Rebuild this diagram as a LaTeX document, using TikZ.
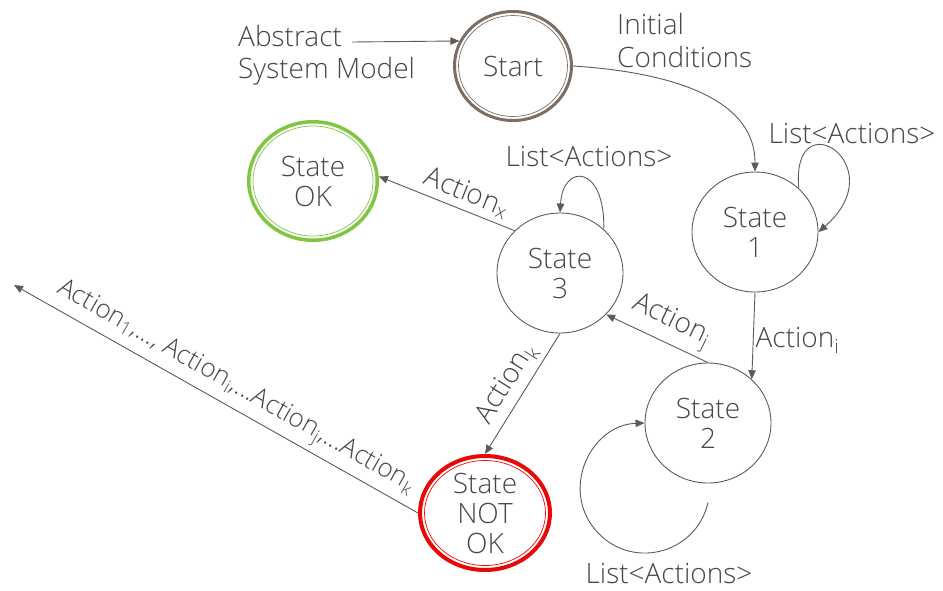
\documentclass[tikz,border=0pt]{standalone}
\usepackage{fontspec}
\setmainfont{Open Sans Light}
\usetikzlibrary{arrows.meta,shapes.geometric}
\definecolor{ink}{RGB}{76,70,66}
\definecolor{wire}{RGB}{95,90,87}
\definecolor{startrim}{RGB}{122,110,102}
\definecolor{okgreen}{RGB}{128,198,66}
\definecolor{badred}{RGB}{232,8,8}
\begin{document}
\begin{tikzpicture}[x=1pt,y=-1pt,
  every node/.style={text=ink, font=\fontsize{28}{30}\selectfont},
  state/.style={ellipse, draw=wire, line width=0.9pt, minimum width=126pt,
    minimum height=120pt, inner sep=0pt, align=center},
  conn/.style={draw=wire, line width=0.9pt, -{Triangle[length=9pt,width=7.5pt]}},
  tag/.style={inner sep=0pt, anchor=base west},
  looptag/.style={inner sep=0pt, anchor=base},
  edgetag/.style={inner sep=2pt},
  slopetag/.style={inner sep=0pt, sloped, above=5pt},
]
\useasboundingbox (0,0) rectangle (943,590);

% states
\node[state, draw=startrim, line width=3pt, minimum width=117pt, minimum height=109pt] (start) at (513,66) {Start};
\draw[startrim, line width=0.7pt] (start.center) ellipse [x radius=54.5, y radius=50.5];

\node[state, draw=okgreen, line width=3.5pt, minimum width=128.5pt, minimum height=118.5pt] (ok) at (313,181) {State\\OK};
\draw[okgreen, line width=0.7pt] (ok.center) ellipse [x radius=60, y radius=55];

\node[state, draw=badred, line width=4pt, minimum width=130pt, minimum height=114pt, inner ysep=-20pt] (notok) at (485,513) {State\\NOT\\OK};
\draw[badred, line width=0.7pt] (notok.center) ellipse [x radius=60.5, y radius=52.5];

\node[state] (s1) at (755,232) {State\\1};
\node[state] (s2) at (708,423) {State\\2};
\node[state] (s3) at (560,273) {State\\3};

% free texts
\node[tag] (abs1) at (238,46) {Abstract};
\node[tag] (abs2) at (238,78) {System Model};
\node[tag] (ic1) at (617,34) {Initial};
\node[tag] (ic2) at (617,67) {Conditions};
\node[looptag] (loop1) at (852,143) {List<Actions>};
\node[looptag] (loop3) at (589,166) {List<Actions>};
\node[looptag] (loop2) at (669,583) {List<Actions>};

\coordinate (exit) at (14,285);
\coordinate (s2tail) at ([shift={(0,19)}]s2.south);

% transitions
\draw[conn] ([shift={(10,-4)}]abs1.base east) -- (start.155);
\draw[conn] (start.east) .. controls +(80,5) and +(0,-80) .. (s1.north);
\draw[conn] (s1.45) .. controls +(-8,-90) and +(77,-67) .. (s1.0);
\draw[conn] (s1.south) -- (s2.45)
  node[edgetag, pos=0.55, right] {Action\textsubscript{i}};
\draw[conn] (s2.north) -- (s3.-42)
  node[slopetag, pos=0.45] {Action\textsubscript{j}};
\draw[conn] (s3.45) .. controls +(1.5,-64.5) and +(3,-50) .. (s3.north);
\draw[conn] (s3.137) -- (ok.4)
  node[slopetag, pos=0.4] {Action\textsubscript{x}};
\draw[conn] (s3.south) -- (notok.north)
  node[slopetag, pos=0.5] {Action\textsubscript{k}};
\draw[conn] (s2tail) .. controls (696,555) and (629.5,571) .. (595,529.5)
  .. controls (560.5,488) and (591,425) .. (s2.west);
\draw[conn] (notok.west) -- (exit)
  node[slopetag, pos=0.475, font=\fontsize{26}{30}\selectfont] {Action\textsubscript{1},..., Action\textsubscript{i},...Action\textsubscript{j},...Action\textsubscript{k}};
\end{tikzpicture}
\end{document}
